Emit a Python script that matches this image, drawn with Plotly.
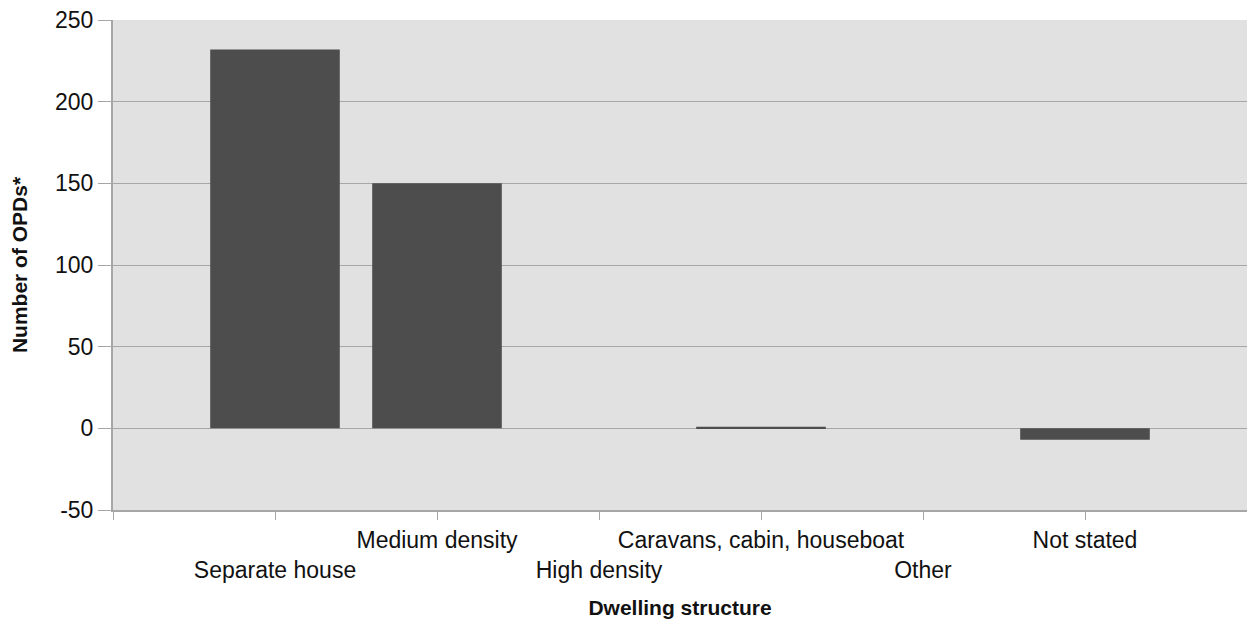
import plotly.graph_objects as go

# Dwelling structure categories and values
categories = ["Separate house", "Medium density", "High density",
              "Caravans, cabin, houseboat", "Other", "Not stated"]
opds = [232, 150, 0, 1, 0, -7]
y_ticks = [-50, 0, 50, 100, 150, 200, 250]

positions = list(range(len(categories)))

# staggered labels: odd categories on the upper row, even ones on the lower row
upper_text = [c if i % 2 == 1 else "" for i, c in enumerate(categories)]
lower_text = [c if i % 2 == 0 else "" for i, c in enumerate(categories)]

fig = go.Figure()
fig.add_trace(go.Bar(x=positions, y=opds, width=0.8,
                     marker=dict(color="#4d4d4d", line=dict(width=0)),
                     showlegend=False, hoverinfo="x+y"))
# invisible companion trace so the second (lower-row label) axis gets drawn
fig.add_trace(go.Scatter(x=positions, y=opds, xaxis="x2", mode="markers",
                         marker=dict(opacity=0), showlegend=False,
                         hoverinfo="skip"))

font = "Liberation Sans, Arial, sans-serif"
fig.update_layout(
    width=1247, height=623,
    margin=dict(l=113, r=0, t=20, b=113),
    paper_bgcolor="white",
    plot_bgcolor="#e1e1e1",
    font=dict(family=font, size=23, color="#111111"),
    xaxis=dict(
        range=[-1, 6],
        tickvals=[-1] + positions,
        ticktext=[""] + upper_text,
        ticks="outside", ticklen=8, tickcolor="#a6a6a6", tickwidth=1,
        showgrid=False, zeroline=False,
        showline=True, linecolor="#a6a6a6", linewidth=2,
        ticklabelstandoff=0,
        title=dict(text="<b>Dwelling structure</b>", font=dict(size=21), standoff=49),
    ),
    xaxis2=dict(
        overlaying="x", side="bottom", anchor="y",
        range=[-1, 6],
        tickvals=positions, ticktext=lower_text,
        ticks="", showgrid=False, zeroline=False, showline=False,
        ticklabelstandoff=44,
    ),
    yaxis=dict(
        range=[-50, 250],
        tickvals=y_ticks,
        ticktext=[str(v) for v in y_ticks],
        ticklabeloverflow="allow",
        ticks="outside", ticklen=13, tickcolor="#a6a6a6", tickwidth=1,
        showgrid=True, gridcolor="#a6a6a6", gridwidth=1,
        zeroline=True, zerolinecolor="#a6a6a6", zerolinewidth=1,
        showline=True, linecolor="#a6a6a6", linewidth=2,
        title=dict(text="<b>Number of OPDs*</b>", font=dict(size=21), standoff=22),
    ),
)

# drop the default page margin so the 1247x623 figure fills the window exactly
fig.write_html("out.html", config={"displayModeBar": False},
               post_script="document.body.style.margin='0';document.body.style.overflow='hidden';")
